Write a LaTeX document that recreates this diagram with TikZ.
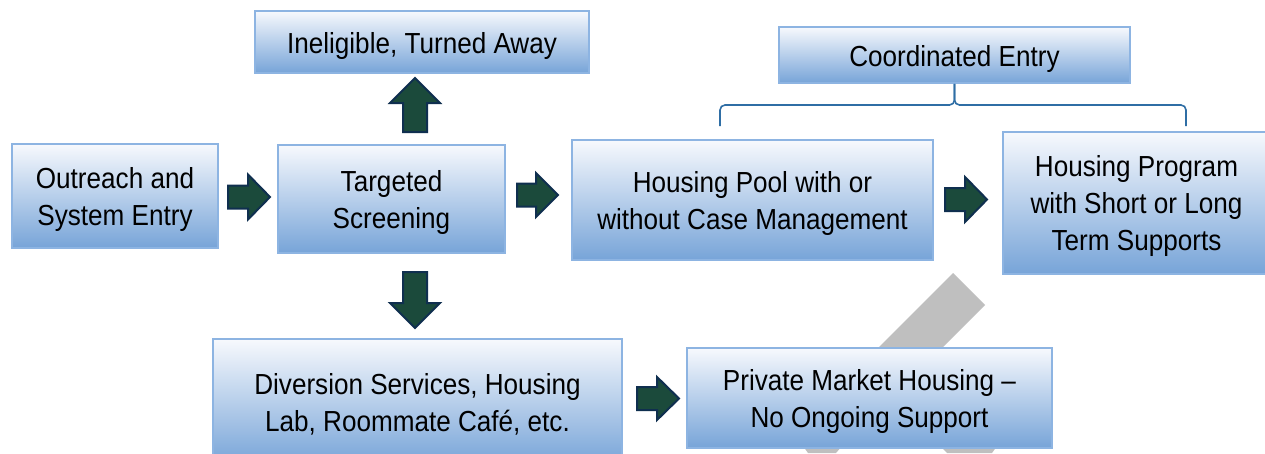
\documentclass[tikz,border=0pt]{standalone}
\usepackage{fontspec}
\setmainfont{Liberation Sans}[FakeStretch=0.9]
\definecolor{boxtop}{HTML}{F7F9FD}
\definecolor{boxbot}{HTML}{77A4D8}
\definecolor{boxline}{HTML}{8DB4E2}
\definecolor{arrfill}{HTML}{1B4A3B}
\definecolor{arrline}{HTML}{0F2F4F}
\definecolor{bracecol}{HTML}{2F6EA5}
\definecolor{bandcol}{HTML}{BFBFBF}
\newcommand\firstln{\rule{0pt}{28pt}}
\newcommand\lastln{\rule[-7pt]{0pt}{0pt}}
\tikzset{
  box/.style={draw=boxline, line width=1.5pt, top color=boxtop, bottom color=boxbot,
    rectangle, inner sep=0pt, align=center, font=\fontsize{29}{37}\selectfont, text=black},
  arrowsty/.style={fill=arrfill, draw=arrline, line width=2pt, line join=miter},
  bracesty/.style={draw=bracecol, line width=1.6pt, rounded corners=5pt},
  band/.style={fill=bandcol, draw=none}
}
% right-pointing block arrow: center x, center y, length, head width
\newcommand\harrow[4]{%
  \path[arrowsty] ({#1-#3/2},{#2-11.5}) -- ({#1+#3/2-22},{#2-11.5}) -- ({#1+#3/2-22},{#2-#4/2})
    -- ({#1+#3/2},{#2}) -- ({#1+#3/2-22},{#2+#4/2}) -- ({#1+#3/2-22},{#2+11.5})
    -- ({#1-#3/2},{#2+11.5}) -- cycle;}
% vertical block arrow: center x, center y, length, head width, direction (1 down, -1 up)
\newcommand\varrow[5]{%
  \path[arrowsty] ({#1-12},{#2-#5*#3/2}) -- ({#1-12},{#2+#5*(#3/2-25)}) -- ({#1-#4/2},{#2+#5*(#3/2-25)})
    -- ({#1},{#2+#5*#3/2}) -- ({#1+#4/2},{#2+#5*(#3/2-25)}) -- ({#1+12},{#2+#5*(#3/2-25)})
    -- ({#1+12},{#2-#5*#3/2}) -- cycle;}
\begin{document}
\begin{tikzpicture}[x=1pt,y=-1pt]
\clip (0,0) rectangle (1265,453);
\fill[white] (0,0) rectangle (1265,453);
% grey diagonal band behind the lower box
\path[band] (953,273) -- (985,305) -- (842,448) -- (778,448) -- cycle;
\path[band] (803,446) -- (842,446) -- (836,453) -- (808,453) -- cycle;
\path[band] (940,446) -- (997,446) -- (992,453) -- (947,453) -- cycle;
% boxes
\node[box, minimum width=206pt, minimum height=104pt] (out) at (115,196) {\firstln Outreach and\\System Entry\lastln};
\node[box, minimum width=227pt, minimum height=108pt] (ts) at (391.5,199) {\firstln Targeted\\Screening\lastln};
\node[box, minimum width=334pt, minimum height=62pt] (inel) at (422,42) {\rule{0pt}{30pt}Ineligible, Turned Away\lastln};
\node[box, minimum width=361pt, minimum height=120pt] (hp) at (752.5,200) {\firstln Housing Pool with or\\without Case Management\lastln};
\node[box, minimum width=267pt, minimum height=142pt] (hprog) at (1136.5,203) {\firstln Housing Program\\with Short or Long\\Term Supports\lastln};
\node[box, minimum width=351pt, minimum height=56pt] (ce) at (954.5,55) {\rule{0pt}{30pt}Coordinated Entry\lastln};
\node[box, minimum width=409pt, minimum height=126pt] (div) at (417.5,402) {\firstln Diversion Services, Housing\\Lab, Roommate Caf\'e, etc.\lastln};
\node[box, minimum width=365pt, minimum height=100pt] (pm) at (869.5,398) {\firstln Private Market Housing --\\No Ongoing Support\lastln};
% brace under Coordinated Entry
\coordinate (bl) at (720,126);
\coordinate (br) at (1186,126);
\coordinate (bm) at (954.5,105);
\draw[bracesty] (bl) |- (bm) -- (ce.south);
\draw[bracesty] (br) |- (bm) -- (ce.south);
% block arrows
\harrow{249}{197}{42}{45}
\harrow{537.5}{195}{41}{44}
\harrow{966}{199.5}{42}{45}
\harrow{658}{398.5}{42}{43}
\varrow{415}{105}{54}{50}{-1}
\varrow{415}{300}{56}{50}{1}
\end{tikzpicture}
\end{document}
